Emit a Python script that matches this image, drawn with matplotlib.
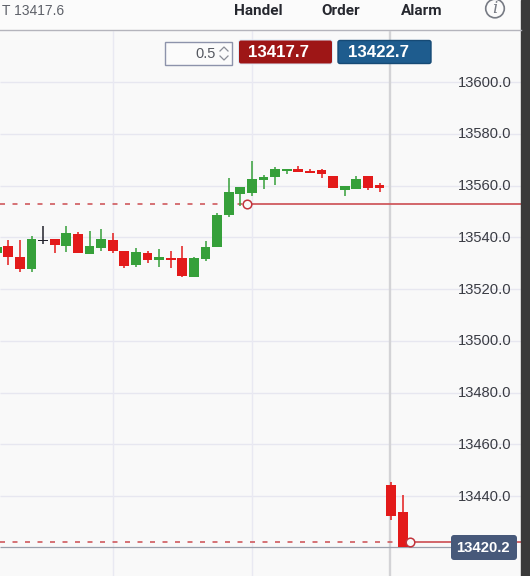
import matplotlib
matplotlib.use("Agg")
import matplotlib.pyplot as plt
from matplotlib.patches import Rectangle, FancyBboxPatch, Circle
from matplotlib.lines import Line2D

plt.rcParams['font.family'] = ['Liberation Sans', 'DejaVu Sans']

opens  = [13533.9, 13536.6, 13532.4, 13527.7, 13538.9, 13539.3, 13536.6, 13541.3, 13533.5, 13535.9,
          13538.9, 13534.7, 13529.3, 13533.9, 13531.2, 13532.0, 13532.0, 13524.6, 13531.6, 13536.2,
          13548.6, 13556.7, 13557.1, 13562.1, 13563.3, 13565.6, 13566.4, 13565.6, 13566.0, 13563.7,
          13558.3, 13558.7, 13563.7, 13560.2, 13444.2, 13433.8]
highs  = [13536.2, 13538.9, 13538.9, 13540.5, 13544.4, 13539.3, 13544.4, 13542.0, 13542.4, 13543.2,
          13541.6, 13534.7, 13535.9, 13534.7, 13535.5, 13534.7, 13536.6, 13532.4, 13538.6, 13549.4,
          13562.9, 13559.4, 13569.5, 13564.1, 13567.2, 13566.4, 13567.5, 13566.4, 13566.4, 13563.7,
          13559.8, 13563.7, 13563.7, 13561.0, 13445.4, 13440.4]
lows   = [13533.9, 13529.3, 13526.6, 13526.6, 13537.4, 13533.9, 13534.3, 13533.9, 13533.5, 13534.7,
          13533.9, 13528.1, 13528.5, 13530.1, 13528.5, 13528.1, 13524.6, 13524.6, 13530.8, 13536.2,
          13547.8, 13552.1, 13555.9, 13558.6, 13560.2, 13564.5, 13565.2, 13564.8, 13562.9, 13559.0,
          13555.9, 13558.7, 13558.3, 13557.5, 13430.7, 13420.3]
closes = [13536.2, 13532.4, 13527.7, 13539.3, 13538.7, 13537.0, 13541.6, 13533.9, 13536.6, 13539.3,
          13534.7, 13528.9, 13534.3, 13531.2, 13532.4, 13531.2, 13525.0, 13532.0, 13536.2, 13548.6,
          13557.5, 13559.4, 13562.5, 13563.3, 13566.4, 13566.4, 13565.2, 13564.8, 13564.4, 13559.0,
          13559.8, 13562.5, 13559.0, 13559.0, 13432.3, 13420.3]
price_ticks = [13600.0, 13580.0, 13560.0, 13540.0, 13520.0, 13500.0, 13480.0, 13460.0, 13440.0]
time_grid = [10, 22, 34]
level_upper = 13553.0
level_lower = 13422.2
current_price = 13420.3
upper_marker = 21.6
lower_marker = 35.6

RED, GREEN, BLACK = '#e31a1a', '#36a03a', '#22222c'
PITCH = 11.6
X0 = -3.3
fig = plt.figure(figsize=(5.3, 5.76), dpi=100, facecolor='#f9f9f9')
ax = fig.add_axes([0, 0, 1, 1], facecolor='#f9f9f9')
ax.set_xlim((0 - X0) / PITCH, (530 - X0) / PITCH)
ax.set_ylim(13440 + (496 - 576) / 2.5875, 13440 + 496 / 2.5875)
ax.axis('off')
xpx = lambda p: (p - X0) / PITCH
ypx = lambda p: 13440 + (496 - p) / 2.5875

# grid
for t in price_ticks:
    ax.hlines(t, xpx(0), xpx(521), color='#e7e7f0', lw=1.0, zorder=1)
for i, t in enumerate(time_grid):
    ax.vlines(t - 0.08 if i == 2 else t, ypx(576), ypx(30), color='#d3d3d6' if i == 2 else '#e9e9f2',
              lw=1.7 if i == 2 else 1.0, zorder=1)

ax.hlines(current_price, xpx(0), xpx(452), color='#9aa0ac', lw=0.9, zorder=2)

# price level lines
lc = '#cf5a5e'
dash = (0, (3.0, 4.5))
ax.hlines(level_upper, xpx(0), upper_marker, color=lc, lw=1.2, linestyles=[dash], zorder=2)
ax.hlines(level_upper, upper_marker + 0.4, xpx(521), color=lc, lw=1.3, zorder=2)
ax.hlines(level_lower, xpx(0), lower_marker, color=lc, lw=1.2, linestyles=[dash], zorder=2)
ax.hlines(level_lower, lower_marker + 0.4, xpx(521), color=lc, lw=1.3, zorder=2)

# candles
for i, (o, h, l, c) in enumerate(zip(opens, highs, lows, closes)):
    if i == 4:
        col = BLACK
    else:
        col = GREEN if c >= o else RED
    ax.vlines(i, l, h, color=col, lw=1.1, zorder=3)
    ax.bar(i, abs(c - o), bottom=min(o, c), width=0.83, color=col, linewidth=0, zorder=3)

ax.plot([upper_marker, lower_marker], [level_upper, level_lower], ls='none', marker='o', ms=6.2,
        mfc='#f9f9f9', mec='#c2343c', mew=1.1, zorder=4)

# right strip and header
fig.add_artist(Rectangle((521 / 530, 0), 9 / 530, 1, transform=fig.transFigure, color='#3a3a3a', zorder=5))
fig.add_artist(Rectangle((0, 1 - 30 / 576), 521 / 530, 30 / 576, transform=fig.transFigure,
                         color='#fbfbfb', zorder=4))
fig.add_artist(Line2D([0, 521 / 530], [1 - 30 / 576] * 2, color='#b4b4bc', lw=1.0, zorder=5))


def ftext(x, y, s, **kw):
    kw.setdefault('va', 'center')
    kw.setdefault('ha', 'left')
    return fig.text(x / 530, 1 - y / 576, s, zorder=7, **kw)


def box(x0, y0, x1, y1, fc, ec='none', r=2, lw=1.0):
    fig.add_artist(FancyBboxPatch((x0, 576 - y1), x1 - x0, y1 - y0,
                                  boxstyle=f'round,pad=0,rounding_size={r}', fc=fc, ec=ec, lw=lw,
                                  transform=None, zorder=6))


ftext(2, 11, 'T 13417.6', fontsize=10, color='#5d6068')
for x, s in [(234, 'Handel'), (321, 'Order'), (401, 'Alarm')]:
    ftext(x, 11, s, fontsize=11, color='#26282f', fontweight='bold', fontfamily='Roboto')
fig.add_artist(Circle((495, 576 - 8.5), 9.3, transform=None, fc='none', ec='#777b84', lw=1.2, zorder=6))
ftext(495, 8.5, 'i', fontsize=12, color='#777b84', ha='center', style='italic', fontfamily='DejaVu Serif')

# order controls
fig.add_artist(Rectangle((165, 576 - 65), 67, 23, transform=None, fc='#fbfbfb', ec='#8d93ab', lw=1.0, zorder=6))
ftext(216, 53.5, '0.5', fontsize=10.5, color='#555860', ha='right')
for pts in ([(220, 51), (224, 47), (228, 51)], [(220, 56), (224, 60), (228, 56)]):
    fig.add_artist(Line2D([p[0] / 530 for p in pts], [1 - p[1] / 576 for p in pts], color='#8a8d96', lw=0.9, zorder=7))
box(238, 39.5, 333, 64.5, '#dbe8f5', r=3)
box(239, 40.5, 332, 63.5, '#9e1616')
box(338, 40.5, 431, 63.5, '#1e5c8e', ec='#164a75')
ftext(248, 52.5, '13417.7', fontsize=12.2, color='white', fontweight='bold')
ftext(348, 52.5, '13422.7', fontsize=12.2, color='white', fontweight='bold')

# price labels
for t in price_ticks:
    ax.text(xpx(458), ypx(496 - (t - 13440) * 2.5875 + 0.7), f'{t:.1f}', fontsize=10.6, color='#3a3c44',
            va='center', ha='left', zorder=6)
box(451, 535, 517, 560, '#47597a', r=3)
ftext(483, 547.5, '13420.2', fontsize=10.7, color='white', fontweight='bold', ha='center')

fig.savefig('out.png', dpi=100, facecolor=fig.get_facecolor())
